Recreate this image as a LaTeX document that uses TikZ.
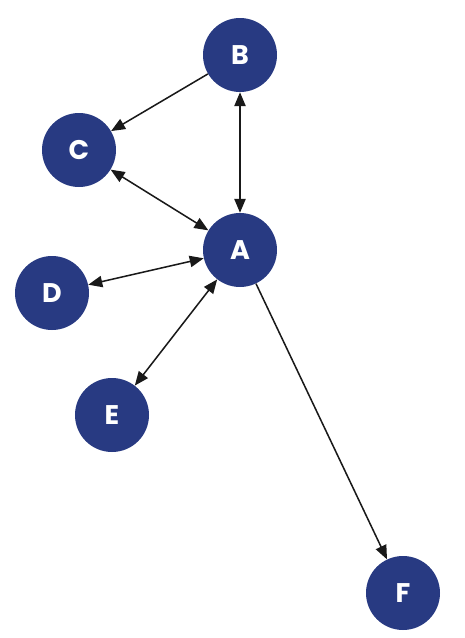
\documentclass[tikz,border=0pt]{standalone}
\usepackage{fontspec}
\newfontfamily\nodefont{Poppins}
\usepackage{tikz}
\usetikzlibrary{positioning,arrows.meta}
\definecolor{nodeblue}{RGB}{40,58,130}
\definecolor{edgegray}{RGB}{25,25,25}
\tikzset{
	vertex/.style={
		circle,
		fill=nodeblue,
		minimum size=2.22cm,
		inner sep=0pt,
		text=white,
		font=\nodefont\bfseries\fontsize{23}{23}\selectfont
	},
	link/.style={
		draw=edgegray,
		line width=1.3pt,
		-{Triangle[length=0.42cm,width=0.34cm]}
	},
	twolink/.style={
		link,
		{Triangle[length=0.42cm,width=0.34cm]}-{Triangle[length=0.42cm,width=0.34cm]}
	}
}
\begin{document}
\begin{tikzpicture}[x=0.03cm, y=-0.03cm]
	\useasboundingbox (0,0) rectangle (464,638);
	\node [vertex] (b) at (240,55) {B};
	\node [vertex] (c) at (79,150) {C};
	\node [vertex] (a) at (240,250) {A};
	\node [vertex] (d) at (52,293) {D};
	\node [vertex] (e) at (112,415) {E};
	\node [vertex] (f) at (403,593) {F};
	\draw [link] (b) -- (c);
	\draw [twolink] (b) -- (a);
	\draw [twolink] (c) -- (a);
	\draw [twolink] (d) -- (a);
	\draw [twolink] (e) -- (a);
	\draw [link] (a) -- (f);
\end{tikzpicture}
\end{document}
